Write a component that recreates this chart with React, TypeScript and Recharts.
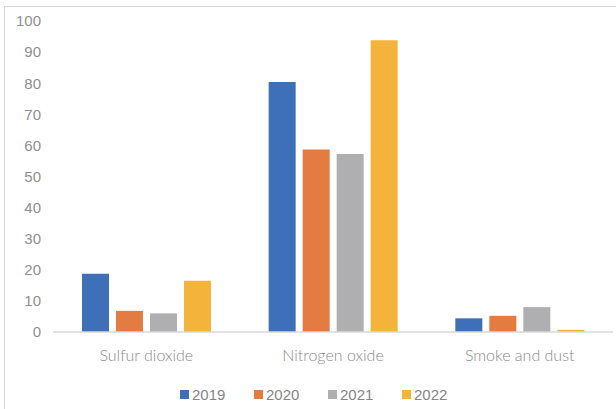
import React from 'react';
import { BarChart, Bar, XAxis, YAxis, Legend } from 'recharts';

const categories = ['Sulfur dioxide', 'Nitrogen oxide', 'Smoke and dust'];
const series2019 = [18.7, 80.4, 4.4];
const series2020 = [6.8, 58.7, 5.2];
const series2021 = [6.0, 57.2, 8.0];
const series2022 = [16.5, 93.8, 0.7];
const yTicks = [0, 10, 20, 30, 40, 50, 60, 70, 80, 90, 100];
const seriesNames = ['2019', '2020', '2021', '2022'];
const colors = ['#3D70B9', '#E47B40', '#AFAFB1', '#F4B33A'];

const data = categories.map((c, i) => ({
  name: c,
  '2019': series2019[i],
  '2020': series2020[i],
  '2021': series2021[i],
  '2022': series2022[i],
}));

const renderLegend = () => (
  <div style={{ display: 'flex', height: 20, alignItems: 'center', paddingLeft: 180 }}>
    {seriesNames.map((n, i) => (
      <div key={n} style={{ display: 'flex', alignItems: 'center', width: 74 }}>
        <div style={{ width: 9, height: 9, background: colors[i], marginRight: 3 }} />
        <span style={{ fontFamily: '"Liberation Sans", Arial, sans-serif', fontSize: 15, color: '#858585' }}>{n}</span>
      </div>
    ))}
  </div>
);

export default function App() {
  return (
    <div style={{ position: 'absolute', left: 0, top: 0, width: 616, height: 409, overflow: 'hidden', background: '#fff' }}>
      <div style={{ position: 'absolute', left: 4, top: 6, width: 700, height: 500, border: '1px solid #d9d9d9' }} />
      <div style={{ position: 'absolute', left: 0, top: 0 }}>
        <BarChart
          width={616}
          height={409}
          data={data}
          margin={{ top: 21, right: 3, bottom: 5, left: 0 }}
          barCategoryGap={29}
          barGap={7}
        >
          <XAxis
            dataKey="name"
            height={52}
            tickLine={false}
            tickSize={0}
            tickMargin={18}
            axisLine={{ stroke: '#d9d9d9', strokeWidth: 1.5 }}
            tick={{ fill: '#8a8a8a', fontSize: 16, fontWeight: 300, fontFamily: 'Lato, "Open Sans", sans-serif' }}
          />
          <YAxis
            width={53}
            domain={[0, 100]}
            ticks={yTicks}
            interval={0}
            axisLine={false}
            tickLine={false}
            tickMargin={6}
            tick={{ fill: '#8f8f8f', fontSize: 15, fontFamily: '"Liberation Sans", Arial, sans-serif' }}
          />
          <Legend
            verticalAlign="bottom"
            height={20}
            content={renderLegend}
            wrapperStyle={{ left: 0, width: 616 }}
          />
          {seriesNames.map((n, i) => (
            <Bar key={n} dataKey={n} fill={colors[i]} isAnimationActive={false} />
          ))}
        </BarChart>
      </div>
    </div>
  );
}
